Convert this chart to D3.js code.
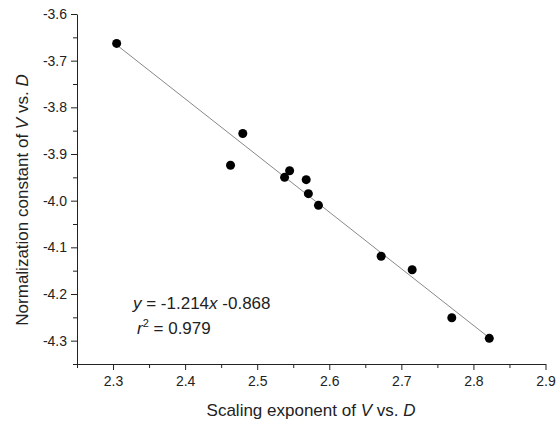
<!DOCTYPE html>
<html>
<head>
<meta charset="utf-8">
<script src="https://cdn.jsdelivr.net/npm/d3@7"></script>
<style>
  body { margin: 0; background: #fff; }
  text { font-family: "Liberation Sans", Arial, sans-serif; fill: #222; }
</style>
</head>
<body>
<div id="chart"></div>
<script>
// data
var exponent = [2.305, 2.463, 2.480, 2.538, 2.545, 2.568, 2.571, 2.585, 2.672, 2.715, 2.770, 2.822];
var constant = [-3.663, -3.924, -3.856, -3.950, -3.936, -3.955, -3.985, -4.010, -4.119, -4.148, -4.251, -4.295];
var fitSlope = -1.214;
var fitIntercept = -0.868;
var xTicks = [2.3, 2.4, 2.5, 2.6, 2.7, 2.8, 2.9];
var yTicks = [-3.6, -3.7, -3.8, -3.9, -4.0, -4.1, -4.2, -4.3];

var svgWidth = 556, svgHeight = 422;
var margin = { top: 14, right: 10, bottom: 58, left: 77 };
var width = 545.5 - margin.left;
var height = 364 - margin.top;

var svg = d3.select("#chart").append("svg")
    .attr("width", svgWidth)
    .attr("height", svgHeight);

var g = svg.append("g")
    .attr("transform", `translate(${margin.left}, ${margin.top})`);

var x = d3.scaleLinear().domain([2.25, 2.9]).range([0, width]);
var y = d3.scaleLinear().domain([-4.35, -3.6]).range([height, 0]);

// plain hyphen instead of the unicode minus
var fmt = d => d.toFixed(1);

// minor ticks first
g.append("g")
    .attr("transform", `translate(0, ${height})`)
    .call(d3.axisBottom(x).tickValues(d3.range(2.25, 2.9, 0.1)).tickSize(4).tickFormat(""))
    .call(a => a.select(".domain").remove());
g.append("g")
    .call(d3.axisLeft(y).tickValues(d3.range(-3.65, -4.36, -0.1)).tickSize(4).tickFormat(""))
    .call(a => a.select(".domain").remove());

var xAxis = g.append("g")
    .attr("transform", `translate(0, ${height})`)
    .call(d3.axisBottom(x).tickValues(xTicks).tickSize(6).tickPadding(6).tickFormat(fmt).tickSizeOuter(0));
var yAxis = g.append("g")
    .call(d3.axisLeft(y).tickValues(yTicks).tickSize(6).tickPadding(4).tickFormat(fmt).tickSizeOuter(0));

svg.selectAll(".tick line, .domain").attr("stroke", "#222");
xAxis.selectAll("text").attr("font-size", 14).attr("fill", "#222");
yAxis.selectAll("text").attr("font-size", 14).attr("fill", "#222");
svg.selectAll("g").attr("font-family", null);

// fit line
var xr = d3.extent(exponent);
g.append("line")
    .attr("x1", x(xr[0])).attr("y1", y(fitSlope * xr[0] + fitIntercept))
    .attr("x2", x(xr[1])).attr("y2", y(fitSlope * xr[1] + fitIntercept))
    .attr("stroke", "#888")
    .attr("stroke-width", 1);

// points
g.selectAll("circle")
    .data(exponent)
    .enter()
    .append("circle")
    .attr("cx", d => x(d))
    .attr("cy", (d, i) => y(constant[i]))
    .attr("r", 4.5)
    .attr("fill", "#000");

// equation
var eq = svg.append("text").attr("x", 133).attr("y", 309).attr("font-size", 17);
eq.append("tspan").attr("font-style", "italic").text("y");
eq.append("tspan").text(" = -1.214");
eq.append("tspan").attr("font-style", "italic").text("x");
eq.append("tspan").text(" -0.868");

var r2 = svg.append("text").attr("x", 137).attr("y", 334).attr("font-size", 17);
r2.append("tspan").attr("font-style", "italic").text("r");
r2.append("tspan").attr("font-size", 11).attr("dy", -7).text("2");
r2.append("tspan").attr("dy", 7).text(" = 0.979");

// axis titles
var xt = svg.append("text")
    .attr("x", 311).attr("y", 416)
    .attr("text-anchor", "middle")
    .attr("font-size", 17);
xt.append("tspan").text("Scaling exponent of ");
xt.append("tspan").attr("font-style", "italic").text("V");
xt.append("tspan").text(" vs. ");
xt.append("tspan").attr("font-style", "italic").text("D");

var yt = svg.append("text")
    .attr("transform", "translate(28, 200) rotate(-90)")
    .attr("text-anchor", "middle")
    .attr("font-size", 17);
yt.append("tspan").text("Normalization constant of ");
yt.append("tspan").attr("font-style", "italic").text("V");
yt.append("tspan").text(" vs. ");
yt.append("tspan").attr("font-style", "italic").text("D");
</script>
</body>
</html>
